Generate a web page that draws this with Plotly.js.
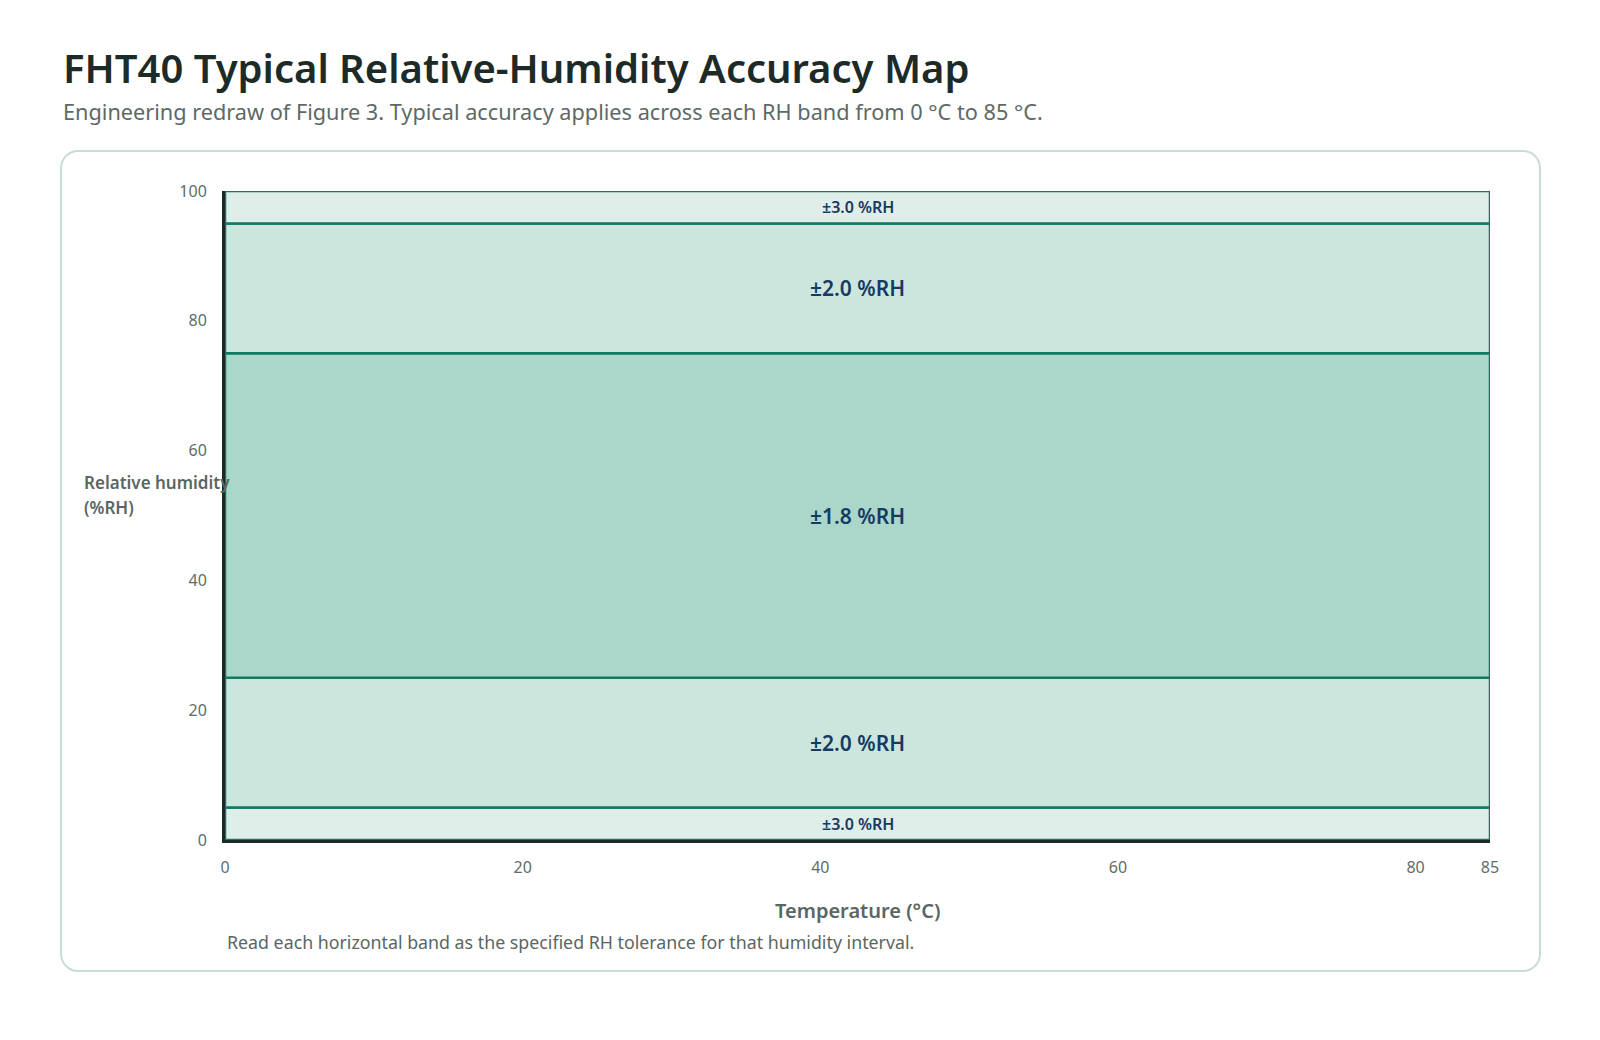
<!DOCTYPE html>
<html>
<head>
<meta charset="utf-8">
<script src="https://cdn.plot.ly/plotly-3.0.1.min.js"></script>
<style>
  body { margin: 0; background: #ffffff; font-family: "Noto Sans", sans-serif; }
  #page { position: relative; width: 1600px; height: 1040px; }
  #title { position: absolute; left: 63px; top: 40px; margin: 0; font-size: 40px; font-weight: 600; color: #1d2b28; line-height: 56px; white-space: nowrap; }
  #subtitle { position: absolute; left: 63px; top: 97px; margin: 0; font-size: 21.7px; color: #5d6966; line-height: 30px; white-space: nowrap; }
  #card { position: absolute; left: 60px; top: 150px; width: 1477px; height: 818px; border: 2px solid #c9dcd7; border-radius: 18px; background: #fff; }
  #chart { position: absolute; left: 0; top: 0; width: 1600px; height: 1040px; }
</style>
</head>
<body>
<div id="page">
  <h1 id="title">FHT40 Typical Relative-Humidity Accuracy Map</h1>
  <p id="subtitle">Engineering redraw of Figure 3. Typical accuracy applies across each RH band from 0 °C to 85 °C.</p>
  <div id="card"></div>
  <div id="chart"></div>
</div>
<script>
// RH bands (lower / upper edge in %RH) and their typical accuracy
const bandLow = [0, 5, 25, 75, 95];
const bandHigh = [5, 25, 75, 95, 100];
const bandAccuracy = [3.0, 2.0, 1.8, 2.0, 3.0];

// temperature span the accuracy applies to
const tempMin = 0;
const tempMax = 85;

const xTicks = [0, 20, 40, 60, 80, 85];
const yTicks = [0, 20, 40, 60, 80, 100];

// fill colour per tolerance level
const fillByAccuracy = { '3.0': '#dfeee9', '2.0': '#cce6dd', '1.8': '#aad7ca' };

// plot box in page pixels, used to place the free text
const plotLeft = 225, plotRight = 1490, plotTop = 191, plotBottom = 840;
const px2x = px => (px - plotLeft) / (plotRight - plotLeft);
const px2y = py => (plotBottom - py) / (plotBottom - plotTop);

const shapes = [];
const annotations = [];

bandLow.forEach((lo, i) => {
    const hi = bandHigh[i];
    const acc = bandAccuracy[i].toFixed(1);
    shapes.push({
        type: 'rect', xref: 'x', yref: 'y', layer: 'below',
        x0: tempMin, x1: tempMax, y0: lo, y1: hi,
        fillcolor: fillByAccuracy[acc],
        line: { color: '#0f7a62', width: 2.5 }
    });
    const thin = (hi - lo) < 10;
    annotations.push({
        xref: 'x', yref: 'y',
        x: (tempMin + tempMax) / 2, y: (lo + hi) / 2,
        text: `±${acc} %RH`,
        showarrow: false,
        font: { family: 'Noto Sans', size: thin ? 16 : 21, color: '#173a63', weight: 600 }
    });
});

// axis titles and footnote
const yTitleLines = ['Relative humidity', '(%RH)'];
yTitleLines.forEach((line, i) => {
    annotations.push({
        xref: 'paper', yref: 'paper', x: px2x(82), y: px2y(482 + i * 26),
        xanchor: 'left', yanchor: 'middle', align: 'left',
        text: line, showarrow: false,
        font: { family: 'Noto Sans', size: 17, color: '#5a6663', weight: 600 }
    });
});
annotations.push({
    xref: 'paper', yref: 'paper', x: 0.5, y: px2y(911),
    xanchor: 'center', yanchor: 'middle',
    text: 'Temperature (°C)', showarrow: false,
    font: { family: 'Noto Sans', size: 20, color: '#5a6663', weight: 600 }
});
annotations.push({
    xref: 'paper', yref: 'paper', x: 0, y: px2y(942),
    xanchor: 'left', yanchor: 'middle',
    text: 'Read each horizontal band as the specified RH tolerance for that humidity interval.',
    showarrow: false,
    font: { family: 'Noto Sans', size: 17.8, color: '#5a6663' }
});

// invisible trace so the axes are drawn
const trace = {
    type: 'scatter', mode: 'markers',
    x: [tempMin, tempMax], y: [bandLow[0], bandHigh[bandHigh.length - 1]],
    marker: { opacity: 0 }, hoverinfo: 'skip', showlegend: false
};

const layout = {
    width: 1600, height: 1040,
    margin: { l: plotLeft, r: 1600 - plotRight, t: plotTop, b: 1040 - plotBottom },
    paper_bgcolor: 'rgba(0,0,0,0)',
    plot_bgcolor: 'rgba(0,0,0,0)',
    showlegend: false,
    font: { family: 'Noto Sans', size: 16, color: '#5f6d6a' },
    xaxis: {
        range: [tempMin, tempMax], tickvals: xTicks, ticks: '',
        showgrid: false, zeroline: false,
        showline: true, linecolor: '#1a2b27', linewidth: 3,
        ticklabelstandoff: 11
    },
    yaxis: {
        range: [0, 100], tickvals: yTicks, ticks: '',
        showgrid: false, zeroline: false,
        showline: true, linecolor: '#1a2b27', linewidth: 3,
        ticklabelstandoff: 12
    },
    shapes: shapes,
    annotations: annotations
};

Plotly.newPlot('chart', [trace], layout, { staticPlot: true });
</script>
</body>
</html>
